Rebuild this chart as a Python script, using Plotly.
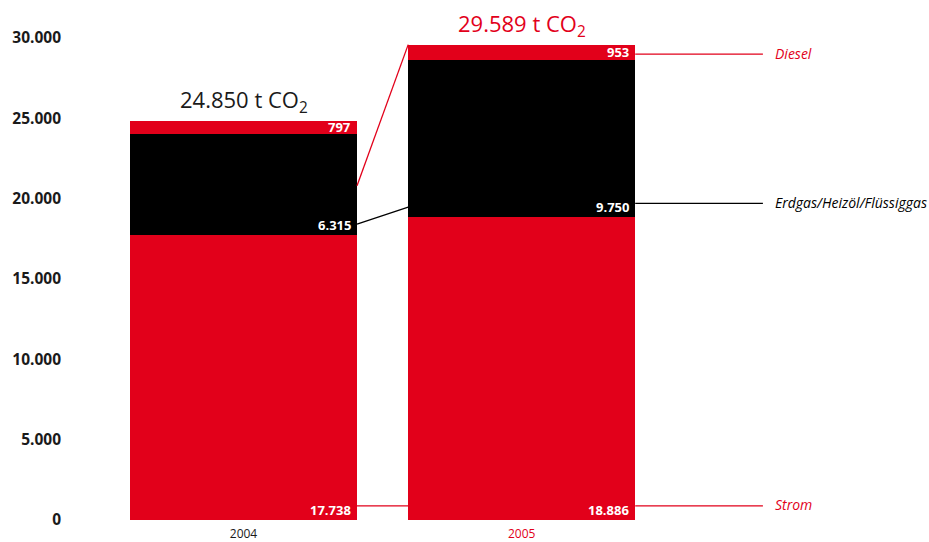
import plotly.graph_objects as go

# CO2 emissions by energy source, tonnes
years = ["2004", "2005"]
strom = [17738, 18886]
heizung = [6315, 9750]          # Erdgas/Heizöl/Flüssiggas
diesel = [797, 953]
source_labels = ["Strom", "Erdgas/Heizöl/Flüssiggas", "Diesel"]
y_ticks = [0, 5000, 10000, 15000, 20000, 25000, 30000]

RED = "#E2001A"
BLACK = "#000000"
TEXT = "#1a1a1a"
FONT = "Open Sans"

x_pos = [0, 1]
bar_w = 0.816
totals = [s + h + d for s, h, d in zip(strom, heizung, diesel)]


def de(v):
    return f"{v:,}".replace(",", ".")


fig = go.Figure()
for name, vals, col in [(source_labels[0], strom, RED),
                        (source_labels[1], heizung, BLACK),
                        (source_labels[2], diesel, RED)]:
    fig.add_trace(go.Bar(x=x_pos, y=vals, name=name, width=bar_w,
                         marker=dict(color=col, line=dict(width=0)),
                         showlegend=False, hoverinfo="skip"))

ann = []
# value labels inside the segments, right aligned
for i, xp in enumerate(x_pos):
    right = xp + bar_w / 2
    lab = dict(x=right, xref="x", yref="y", xanchor="right", showarrow=False,
               xshift=-4, font=dict(family=FONT, size=13, color="white", weight="bold"))
    ann.append(dict(lab, y=0, yanchor="bottom", yshift=-1, text=de(strom[i])))
    ann.append(dict(lab, y=strom[i], yanchor="bottom", yshift=-1, text=de(heizung[i])))
    ann.append(dict(lab, y=strom[i] + heizung[i] + diesel[i] / 2, yanchor="middle",
                    text=de(diesel[i])))

# totals above the bars
for i, xp in enumerate(x_pos):
    ann.append(dict(x=xp, y=totals[i], xref="x", yref="y", yanchor="bottom",
                    showarrow=False, yshift=1,
                    text=f"{de(totals[i])} t CO<sub>2</sub>",
                    font=dict(family=FONT, size=22, color=TEXT if i == 0 else RED)))

# leader lines and source names on the right
x_r0 = x_pos[1] + bar_w / 2
x_r1 = 1.867
x_lab = 1.912
right_leaders = [(29000, RED, source_labels[2]),
                 (19710, BLACK, source_labels[1]),
                 (880, RED, source_labels[0])]
shapes = []
for yv, col, txt in right_leaders:
    shapes.append(dict(type="line", xref="x", yref="y", x0=x_r0, x1=x_r1,
                       y0=yv, y1=yv, line=dict(color=col, width=1.3)))
    ann.append(dict(x=x_lab, y=yv, xref="x", yref="y", xanchor="left",
                    yanchor="middle", showarrow=False, yshift=1, xshift=-2,
                    text=f"<i>{txt}</i>",
                    font=dict(family=FONT, size=14, color=col)))

# connectors between the two bars
x_c0 = x_pos[0] + bar_w / 2
x_c1 = x_pos[1] - bar_w / 2
connectors = [(20800, totals[1], RED), (18420, 19480, BLACK), (880, 880, RED)]
for y0, y1, col in connectors:
    shapes.append(dict(type="line", xref="x", yref="y", x0=x_c0, x1=x_c1,
                       y0=y0, y1=y1, line=dict(color=col, width=1.3)))

fig.update_layout(
    width=929, height=542,
    margin=dict(l=62, r=0, t=38, b=22, autoexpand=False),
    paper_bgcolor="white", plot_bgcolor="white",
    barmode="stack", bargap=0,
    separators=",.",
    font=dict(family=FONT, color=TEXT),
    annotations=ann, shapes=shapes,
    xaxis=dict(range=[-0.6524, 2.464], tickvals=x_pos,
               ticktext=[years[0], f"<span style='color:{RED}'>{years[1]}</span>"],
               showgrid=False, zeroline=False, showline=False, ticks="",
               tickfont=dict(family=FONT, size=12, color=TEXT),
               ticklabelstandoff=5, automargin=False, fixedrange=True),
    yaxis=dict(range=[0, 30000], tickvals=y_ticks, tickformat=",d",
               showgrid=False, zeroline=False, showline=False, ticks="",
               tickfont=dict(family=FONT, size=15.5, color=TEXT, weight="bold"),
               automargin=False, fixedrange=True),
)

fig.write_html("out.html")
